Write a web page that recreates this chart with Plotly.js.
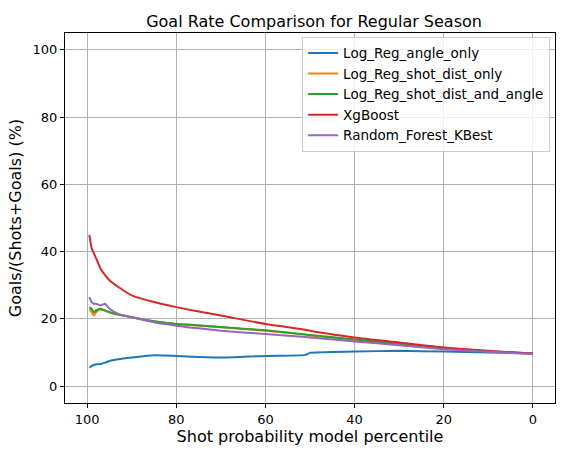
<!DOCTYPE html>
<html><head><meta charset="utf-8">
<script src="https://cdn.plot.ly/plotly-3.0.1.min.js"></script>
<style>body{margin:0}#c{width:571px;height:455px}</style>
</head><body><div id="c"></div>
<script>
const pct = [99.5, 99, 98.5, 98, 97, 96, 95, 93, 90, 85, 80, 75, 70, 60, 51, 50, 40, 30, 20, 10, 0];
const angleOnly = [5.5, 6, 6.3, 6.5, 6.6, 7, 7.5, 8, 8.5, 9.2, 9, 8.7, 8.5, 9, 9.3, 9.9, 10.3, 10.5, 10.3, 10, 9.7];
const distOnly = [23, 22, 21, 22, 22.8, 22.5, 22, 21.2, 20.5, 19.3, 18.5, 18, 17.5, 16.5, 15.3, 15.1, 13.8, 12.5, 11.3, 10.3, 9.7];
const distAngle = [23.5, 23, 22, 22.5, 23, 22.5, 22, 21.3, 20.5, 19.3, 18.5, 18.1, 17.6, 16.6, 15.4, 15.2, 13.9, 12.6, 11.4, 10.4, 9.7];
const xgb = [45, 41, 39.5, 38, 35, 33, 31.5, 29.5, 27, 25, 23.5, 22.2, 21, 18.5, 16.8, 16.5, 14.5, 13, 11.5, 10.5, 9.7];
const rfKBest = [26.5, 25, 24.5, 24.5, 24, 24.5, 23, 21.5, 20.5, 19, 18, 17.2, 16.5, 15.5, 14.6, 14.5, 13.3, 12.2, 11, 10.2, 9.7];

const names = ['Log_Reg_angle_only', 'Log_Reg_shot_dist_only', 'Log_Reg_shot_dist_and_angle', 'XgBoost', 'Random_Forest_KBest'];
const series = [angleOnly, distOnly, distAngle, xgb, rfKBest];
const colors = ['#1f77b4', '#ff7f0e', '#2ca02c', '#d62728', '#9467bd'];

const data = series.map((s, i) => ({
  x: pct, y: s, name: names[i], type: 'scatter', mode: 'lines',
  line: {color: colors[i], width: 2, shape: 'spline', smoothing: 0.6}
}));

const ax = {
  showgrid: true, gridcolor: '#b0b0b0', gridwidth: 1, zeroline: false,
  showline: true, mirror: true, linecolor: 'black', linewidth: 1,
  ticks: 'outside', ticklen: 4, tickcolor: 'black', tickfont: {size: 13, color: 'black'}
};

const layout = {
  width: 571, height: 455,
  margin: {l: 65, r: 16, t: 33, b: 52},
  paper_bgcolor: 'white', plot_bgcolor: 'white',
  font: {family: 'DejaVu Sans', size: 13, color: 'black'},
  title: {text: 'Goal Rate Comparison for Regular Season', font: {size: 16}, x: 0.55, y: 0.965},
  xaxis: {...ax, range: [104.98, -4.98], tickvals: [100, 80, 60, 40, 20, 0],
    title: {text: 'Shot probability model percentile', standoff: 4}},
  yaxis: {...ax, range: [-5, 105], tickvals: [0, 20, 40, 60, 80, 100],
    title: {text: 'Goals/(Shots+Goals) (%)', standoff: 6}},
  legend: {x: 0.99, y: 0.99, xanchor: 'right', yanchor: 'top', bgcolor: 'rgba(255,255,255,0.8)',
    bordercolor: '#cccccc', borderwidth: 1, font: {size: 13.5}, tracegroupgap: 0},
  showlegend: true
};

Plotly.newPlot('c', data, layout, {staticPlot: true});
</script></body></html>
